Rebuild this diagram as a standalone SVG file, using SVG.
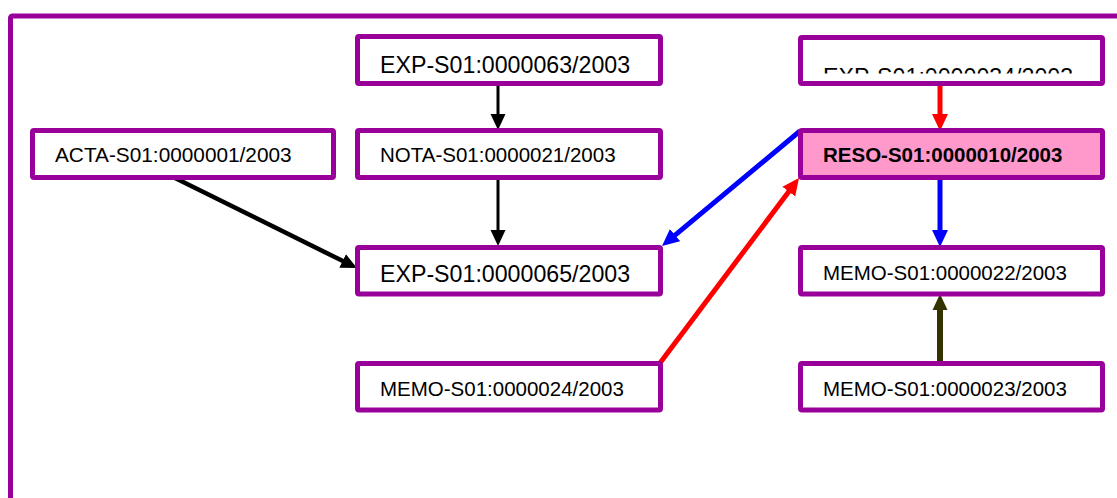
<svg xmlns="http://www.w3.org/2000/svg" width="1117" height="498" viewBox="0 0 1117 498">
  <defs>
    <style>
      .box { fill: #FFFFFF; stroke: #990099; stroke-width: 5; }
      .sel { fill: #FF99CC; stroke: #990099; stroke-width: 5; }
      .t { font-family: "Liberation Sans", Arial, sans-serif; font-size: 20.5px; fill: #000000; }
      .ta { font-family: "Liberation Sans", Arial, sans-serif; font-size: 20.8px; fill: #000000; }
      .tb { font-family: "Liberation Sans", Arial, sans-serif; font-size: 20.5px; font-weight: bold; fill: #000000; }
      .tl { font-family: "Liberation Sans", Arial, sans-serif; font-size: 23.2px; fill: #000000; }
      .c { fill: none; stroke-linecap: butt; }
    </style>
    <marker id="ak" markerUnits="userSpaceOnUse" markerWidth="16" markerHeight="16" refX="6" refY="7.5" orient="auto" viewBox="0 0 16 15">
      <path d="M0,0 L16,7.5 L0,15 Z" fill="#000000"/>
    </marker>
    <marker id="ar" markerUnits="userSpaceOnUse" markerWidth="17" markerHeight="17" refX="7" refY="8" orient="auto" viewBox="0 0 17 16">
      <path d="M0,0 L17,8 L0,16 Z" fill="#FF0000"/>
    </marker>
    <marker id="ab" markerUnits="userSpaceOnUse" markerWidth="17" markerHeight="17" refX="7" refY="8" orient="auto" viewBox="0 0 17 16">
      <path d="M0,0 L17,8 L0,16 Z" fill="#0000FF"/>
    </marker>
    <marker id="ao" markerUnits="userSpaceOnUse" markerWidth="16" markerHeight="16" refX="6" refY="7.5" orient="auto" viewBox="0 0 16 15">
      <path d="M0,0 L16,7.5 L0,15 Z" fill="#333300"/>
    </marker>
    <clipPath id="clip034">
      <rect x="803" y="39" width="297" height="34.5"/>
    </clipPath>
  </defs>

  <rect x="0" y="0" width="1117" height="498" fill="#FFFFFF"/>

  <g id="frame">
    <rect x="10.5" y="16" width="1130" height="500" rx="2" fill="none" stroke="#990099" stroke-width="5"/>
  </g>

  <g id="connectors">
    <line class="c" x1="498" y1="86" x2="498" y2="120" stroke="#000000" stroke-width="3" marker-end="url(#ak)"/>
    <line class="c" x1="498" y1="180" x2="498" y2="236" stroke="#000000" stroke-width="3" marker-end="url(#ak)"/>
    <line class="c" x1="173" y1="177" x2="348" y2="263.6" stroke="#000000" stroke-width="4.5" marker-end="url(#ak)"/>
    <line class="c" x1="800" y1="131" x2="669.7" y2="239.6" stroke="#0000FF" stroke-width="5" marker-end="url(#ab)"/>
    <line class="c" x1="660" y1="363" x2="793" y2="186" stroke="#FF0000" stroke-width="5" marker-end="url(#ar)"/>
    <line class="c" x1="940" y1="86" x2="940" y2="121" stroke="#FF0000" stroke-width="5" marker-end="url(#ar)"/>
    <line class="c" x1="940" y1="180" x2="940" y2="237" stroke="#0000FF" stroke-width="5" marker-end="url(#ab)"/>
    <line class="c" x1="940" y1="361" x2="940" y2="304" stroke="#333300" stroke-width="6" marker-end="url(#ao)"/>
  </g>

  <g id="acta001">
    <rect class="box" x="32.5" y="130.5" width="301" height="47" rx="1.5"/>
    <text class="ta" x="55" y="162">ACTA-S01:0000001/2003</text>
  </g>
  <g id="exp063">
    <rect class="box" x="357.5" y="36.5" width="303" height="47" rx="1.5"/>
    <text class="tl" x="380" y="72.5">EXP-S01:0000063/2003</text>
  </g>
  <g id="nota021">
    <rect class="box" x="357.5" y="130.5" width="303" height="47" rx="1.5"/>
    <text class="t" x="380" y="161.5">NOTA-S01:0000021/2003</text>
  </g>
  <g id="exp065">
    <rect class="box" x="357.5" y="247.5" width="303" height="46.5" rx="1.5"/>
    <text class="tl" x="380" y="282.3">EXP-S01:0000065/2003</text>
  </g>
  <g id="memo024">
    <rect class="box" x="357.5" y="363.5" width="303" height="46.5" rx="1.5"/>
    <text class="t" x="380" y="395.5">MEMO-S01:0000024/2003</text>
  </g>
  <g id="exp034">
    <rect class="box" x="800.5" y="37.5" width="302" height="46" rx="1.5"/>
    <text class="tl" x="823" y="84.5" clip-path="url(#clip034)">EXP-S01:0000034/2003</text>
  </g>
  <g id="reso010">
    <rect class="sel" x="800.5" y="130.5" width="302" height="47" rx="1.5"/>
    <text class="tb" x="823" y="161.5">RESO-S01:0000010/2003</text>
  </g>
  <g id="memo022">
    <rect class="box" x="800.5" y="247.5" width="302" height="46.5" rx="1.5"/>
    <text class="t" x="823" y="280">MEMO-S01:0000022/2003</text>
  </g>
  <g id="memo023">
    <rect class="box" x="800.5" y="363.5" width="302" height="46.5" rx="1.5"/>
    <text class="t" x="823" y="395.5">MEMO-S01:0000023/2003</text>
  </g>
</svg>
